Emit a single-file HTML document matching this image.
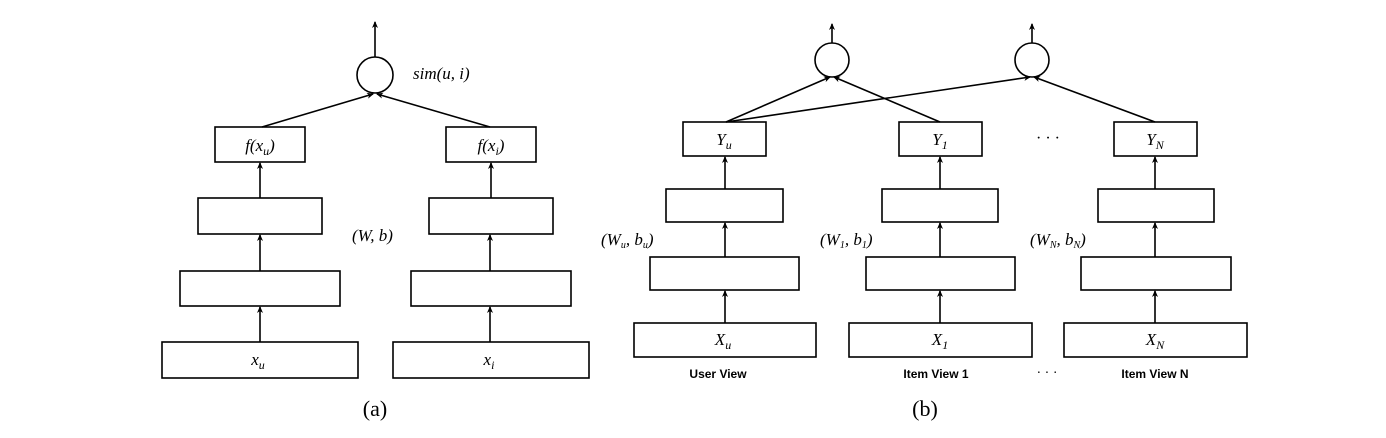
<!DOCTYPE html>
<html><head><meta charset="utf-8"><style>
html,body{margin:0;padding:0;background:#fff;}
svg{display:block;}
.m{font-family:"Liberation Serif",serif;font-style:italic;font-size:17px;}
.s{font-family:"Liberation Serif",serif;font-style:italic;font-size:11px;}
.l{font-family:"Liberation Sans",sans-serif;font-weight:bold;font-size:12px;}
</style></head><body>
<svg width="1386" height="438" viewBox="0 0 1386 438" xmlns="http://www.w3.org/2000/svg">
<defs><marker id="a" markerWidth="8" markerHeight="8" refX="6" refY="4" orient="auto" markerUnits="userSpaceOnUse"><path d="M0,1 L7,4 L0,7 L2,4 Z" fill="#000"/></marker></defs>
<g fill="none" stroke="#000" stroke-width="1.6">
<!-- panel a -->
<circle cx="375" cy="75" r="18"/>
<line x1="375" y1="57" x2="375" y2="22" marker-end="url(#a)"/>
<rect x="215" y="127" width="90" height="35"/>
<rect x="446" y="127" width="90" height="35"/>
<rect x="198" y="198" width="124" height="36"/>
<rect x="429" y="198" width="124" height="36"/>
<rect x="180" y="271" width="160" height="35"/>
<rect x="411" y="271" width="160" height="35"/>
<rect x="162" y="342" width="196" height="36"/>
<rect x="393" y="342" width="196" height="36"/>
<line x1="262" y1="127" x2="373" y2="94" marker-end="url(#a)"/>
<line x1="490" y1="127" x2="377" y2="94" marker-end="url(#a)"/>
<line x1="260" y1="198" x2="260" y2="163" marker-end="url(#a)"/>
<line x1="260" y1="271" x2="260" y2="235" marker-end="url(#a)"/>
<line x1="260" y1="342" x2="260" y2="307" marker-end="url(#a)"/>
<line x1="491" y1="198" x2="491" y2="163" marker-end="url(#a)"/>
<line x1="490" y1="271" x2="490" y2="235" marker-end="url(#a)"/>
<line x1="490" y1="342" x2="490" y2="307" marker-end="url(#a)"/>
<!-- panel b -->
<circle cx="832" cy="60" r="17"/>
<circle cx="1032" cy="60" r="17"/>
<line x1="832" y1="43" x2="832" y2="24" marker-end="url(#a)"/>
<line x1="1032" y1="43" x2="1032" y2="24" marker-end="url(#a)"/>
<rect x="683" y="122" width="83" height="34"/>
<rect x="899" y="122" width="83" height="34"/>
<rect x="1114" y="122" width="83" height="34"/>
<rect x="666" y="189" width="117" height="33"/>
<rect x="882" y="189" width="116" height="33"/>
<rect x="1098" y="189" width="116" height="33"/>
<rect x="650" y="257" width="149" height="33"/>
<rect x="866" y="257" width="149" height="33"/>
<rect x="1081" y="257" width="150" height="33"/>
<rect x="634" y="323" width="182" height="34"/>
<rect x="849" y="323" width="183" height="34"/>
<rect x="1064" y="323" width="183" height="34"/>
<line x1="726" y1="122" x2="830" y2="77" marker-end="url(#a)"/>
<line x1="726" y1="122" x2="1030" y2="77" marker-end="url(#a)"/>
<line x1="940" y1="122" x2="834" y2="77" marker-end="url(#a)"/>
<line x1="1155" y1="122" x2="1034" y2="77" marker-end="url(#a)"/>
<line x1="725" y1="189" x2="725" y2="157" marker-end="url(#a)"/>
<line x1="725" y1="257" x2="725" y2="223" marker-end="url(#a)"/>
<line x1="725" y1="323" x2="725" y2="291" marker-end="url(#a)"/>
<line x1="940" y1="189" x2="940" y2="157" marker-end="url(#a)"/>
<line x1="940" y1="257" x2="940" y2="223" marker-end="url(#a)"/>
<line x1="940" y1="323" x2="940" y2="291" marker-end="url(#a)"/>
<line x1="1155" y1="189" x2="1155" y2="157" marker-end="url(#a)"/>
<line x1="1155" y1="257" x2="1155" y2="223" marker-end="url(#a)"/>
<line x1="1155" y1="323" x2="1155" y2="291" marker-end="url(#a)"/>
</g>
<g fill="#000">
<text class="m" x="413" y="79" font-size="14">sim(u, i)</text>
<text class="m" x="260" y="151" text-anchor="middle">f(x<tspan font-size="12" dy="4">u</tspan><tspan dy="-4">)</tspan></text>
<text class="m" x="491" y="151" text-anchor="middle">f(x<tspan font-size="12" dy="4">i</tspan><tspan dy="-4">)</tspan></text>
<text class="m" x="352" y="241" font-size="14">(W, b)</text>
<text class="m" x="258" y="365" text-anchor="middle">x<tspan font-size="12" dy="4">u</tspan></text>
<text class="m" x="489" y="365" text-anchor="middle">x<tspan font-size="12" dy="4">i</tspan></text>
<text x="375" y="416" text-anchor="middle" font-family="Liberation Serif,serif" font-size="22">(a)</text>

<text class="m" x="724" y="145" text-anchor="middle">Y<tspan font-size="12" dy="4">u</tspan></text>
<text class="m" x="940" y="145" text-anchor="middle">Y<tspan font-size="12" dy="4">1</tspan></text>
<text class="m" x="1155" y="145" text-anchor="middle">Y<tspan font-size="12" dy="4">N</tspan></text>
<text x="1048" y="143" text-anchor="middle" font-family="Liberation Serif,serif" font-size="16">· · ·</text>
<text class="m" x="601" y="245" font-size="14">(W<tspan font-size="10" dy="3">u</tspan><tspan dy="-3">, b</tspan><tspan font-size="10" dy="3">u</tspan><tspan dy="-3">)</tspan></text>
<text class="m" x="820" y="245" font-size="14">(W<tspan font-size="10" dy="3">1</tspan><tspan dy="-3">, b</tspan><tspan font-size="10" dy="3">1</tspan><tspan dy="-3">)</tspan></text>
<text class="m" x="1030" y="245" font-size="14">(W<tspan font-size="10" dy="3">N</tspan><tspan dy="-3">, b</tspan><tspan font-size="10" dy="3">N</tspan><tspan dy="-3">)</tspan></text>
<text class="m" x="723" y="345" text-anchor="middle">X<tspan font-size="12" dy="4">u</tspan></text>
<text class="m" x="940" y="345" text-anchor="middle">X<tspan font-size="12" dy="4">1</tspan></text>
<text class="m" x="1155" y="345" text-anchor="middle">X<tspan font-size="12" dy="4">N</tspan></text>
<text class="l" x="718" y="378" text-anchor="middle">User View</text>
<text class="l" x="936" y="378" text-anchor="middle">Item View 1</text>
<text class="l" x="1155" y="378" text-anchor="middle">Item View N</text>
<text x="1047" y="377" text-anchor="middle" font-family="Liberation Serif,serif" font-size="14">· · ·</text>
<text x="925" y="416" text-anchor="middle" font-family="Liberation Serif,serif" font-size="22">(b)</text>
</g>
</svg>
</body></html>
